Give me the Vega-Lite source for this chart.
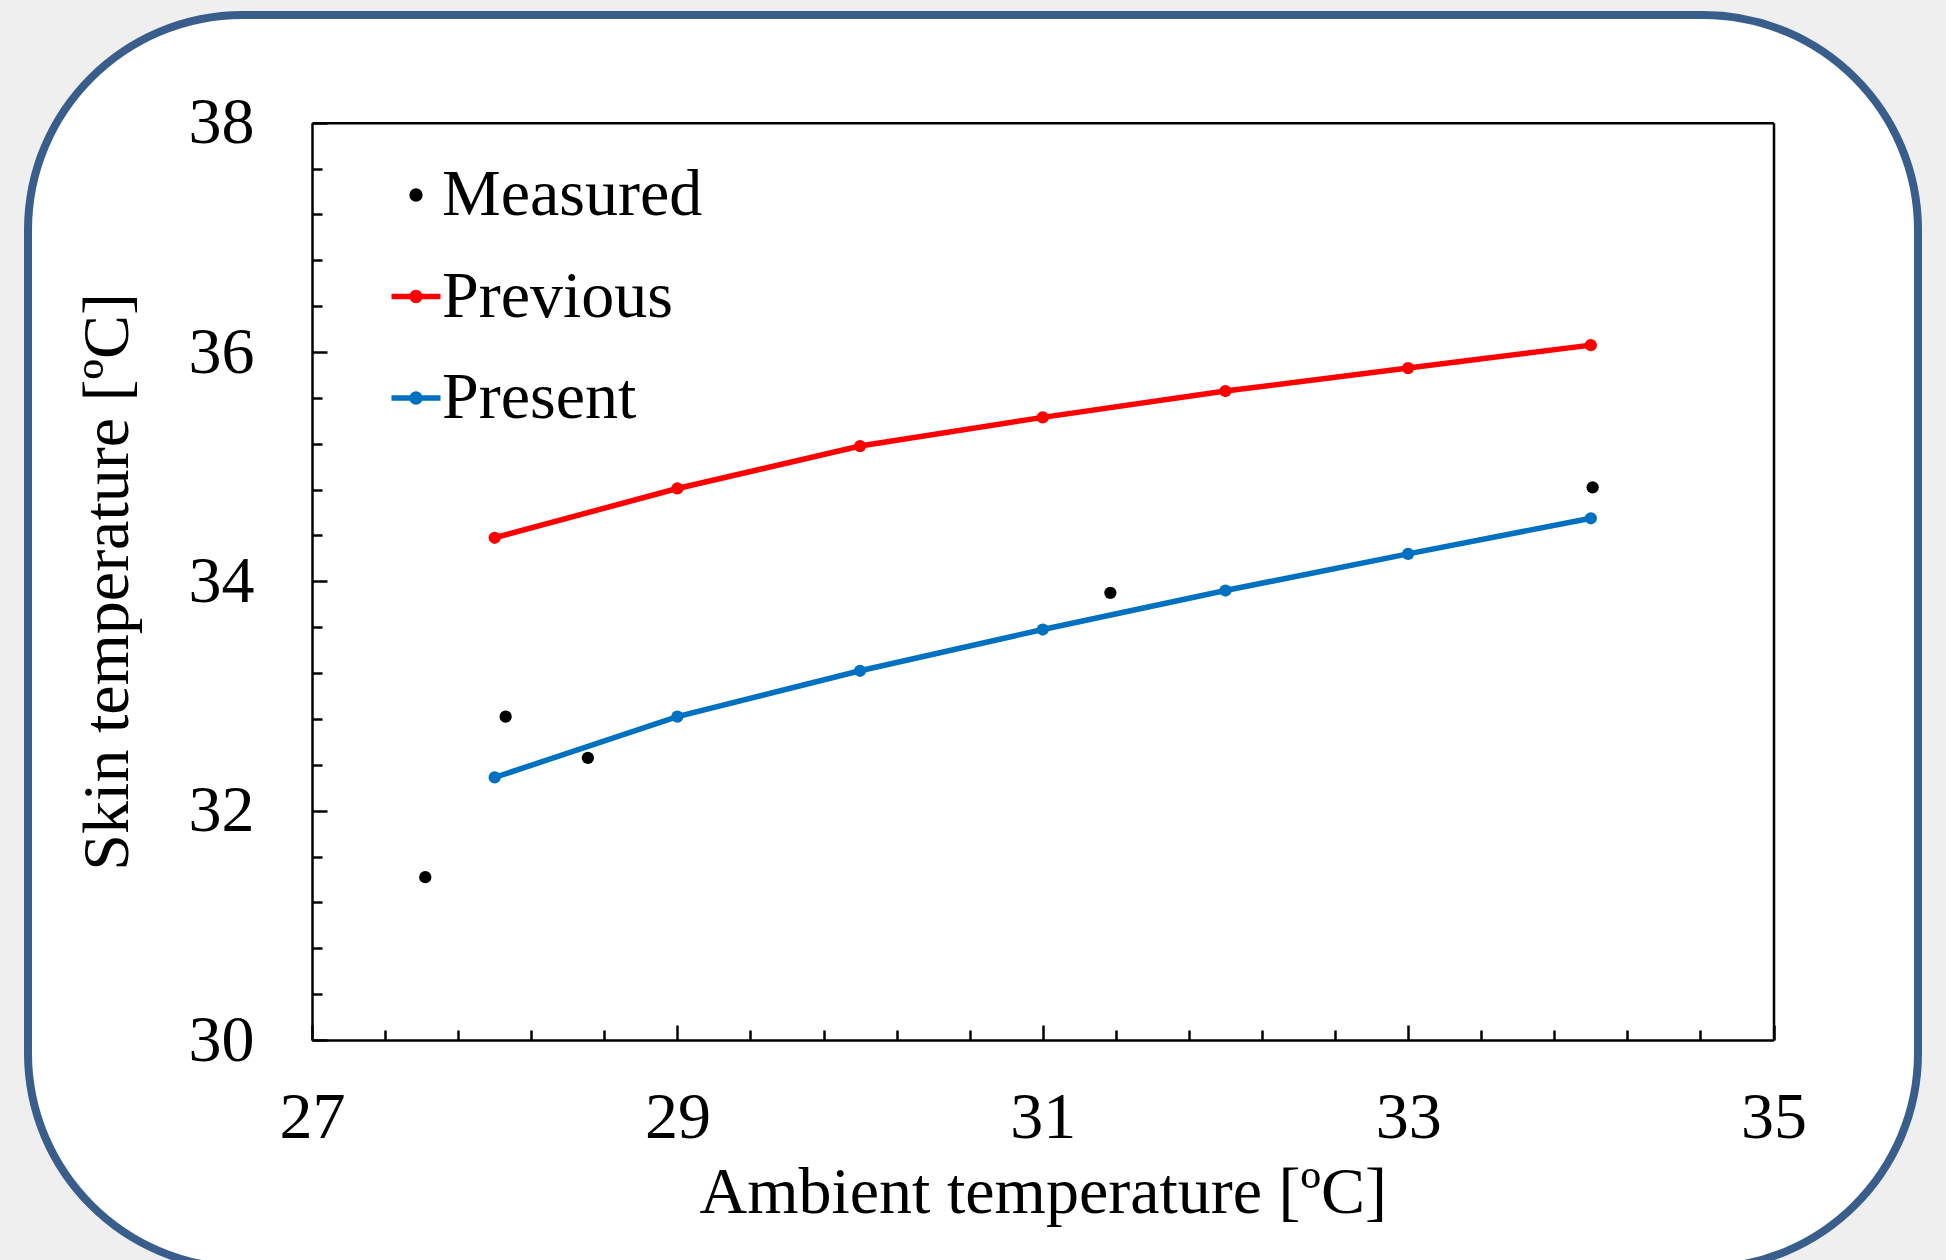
{
  "$schema": "https://vega.github.io/schema/vega-lite/v6.json",
  "autosize": "none",
  "width": 1890,
  "height": 1253,
  "padding": {"left": 28, "top": 15, "right": 28, "bottom": -8},
  "background": "#efefef",
  "config": {
    "font": "Liberation Serif",
    "view": {"fill": "#ffffff", "stroke": "#3A5E8C", "strokeWidth": 8, "cornerRadius": 215},
    "axis": {"grid": false, "domainColor": "#000000", "domainWidth": 2.5, "tickColor": "#000000", "tickWidth": 2.5,
             "labelFont": "Liberation Serif", "labelFontSize": 66, "labelColor": "#000000",
             "titleFont": "Liberation Serif", "titleFontSize": 66, "titleFontWeight": "normal", "titleColor": "#000000",
             "labelFlush": false, "labelOverlap": false}
  },
  "datasets": {
    "temps": [
      {"series": "Previous", "ambient": 28, "skin": 34.38},
      {"series": "Previous", "ambient": 29, "skin": 34.81},
      {"series": "Previous", "ambient": 30, "skin": 35.18},
      {"series": "Previous", "ambient": 31, "skin": 35.43},
      {"series": "Previous", "ambient": 32, "skin": 35.66},
      {"series": "Previous", "ambient": 33, "skin": 35.86},
      {"series": "Previous", "ambient": 34, "skin": 36.06},
      {"series": "Present", "ambient": 28, "skin": 32.29},
      {"series": "Present", "ambient": 29, "skin": 32.82},
      {"series": "Present", "ambient": 30, "skin": 33.22},
      {"series": "Present", "ambient": 31, "skin": 33.58},
      {"series": "Present", "ambient": 32, "skin": 33.92},
      {"series": "Present", "ambient": 33, "skin": 34.24},
      {"series": "Present", "ambient": 34, "skin": 34.55},
      {"series": "Measured", "ambient": 27.62, "skin": 31.42},
      {"series": "Measured", "ambient": 28.06, "skin": 32.82},
      {"series": "Measured", "ambient": 28.51, "skin": 32.46},
      {"series": "Measured", "ambient": 31.37, "skin": 33.90},
      {"series": "Measured", "ambient": 34.01, "skin": 34.82}
    ]
  },
  "data": {"name": "temps"},
  "resolve": {"axis": {"x": "independent", "y": "independent"}},
  "layer": [
    {
      "transform": [{"filter": "datum.series !== 'Measured'"}],
      "mark": {"type": "line", "strokeWidth": 5.5},
      "encoding": {
        "x": {"field": "ambient", "type": "quantitative",
              "scale": {"domain": [27, 35], "range": [284, 1745.5], "nice": false, "zero": false},
              "axis": {"orient": "bottom", "offset": -228,
                       "values": [27,27.4,27.8,28.2,28.6,29,29.4,29.8,30.2,30.6,31,31.4,31.8,32.2,32.6,33,33.4,33.8,34.2,34.6,35],
                       "labelExpr": "(abs(datum.value - round(datum.value)) < 0.01 && round(datum.value) % 2 == 1) ? format(datum.value, 'd') : ''",
                       "tickSize": {"condition": {"test": "abs(datum.value - round(datum.value)) < 0.01 && round(datum.value) % 2 == 1", "value": -15}, "value": -10},
                       "labelPadding": 60, "title": "Ambient temperature [ºC]", "titlePadding": 5}},
        "y": {"field": "skin", "type": "quantitative",
              "scale": {"domain": [30, 38], "range": [1025, 107.7], "nice": false, "zero": false},
              "axis": {"orient": "left", "offset": -284,
                       "values": [30,30.4,30.8,31.2,31.6,32,32.4,32.8,33.2,33.6,34,34.4,34.8,35.2,35.6,36,36.4,36.8,37.2,37.6,38],
                       "labelExpr": "(abs(datum.value - round(datum.value)) < 0.01 && round(datum.value) % 2 == 0) ? format(datum.value, 'd') : ''",
                       "tickSize": {"condition": {"test": "abs(datum.value - round(datum.value)) < 0.01 && round(datum.value) % 2 == 0", "value": -15}, "value": -10},
                       "labelPadding": 73, "title": "Skin temperature [ºC]", "titlePadding": 47}},
        "color": {"field": "series", "type": "nominal",
                  "scale": {"domain": ["Measured", "Previous", "Present"], "range": ["#000000", "#FF0000", "#0070C0"]},
                  "legend": {"orient": "none", "legendX": 355, "legendY": 147, "title": null, "padding": 0,
                             "labelFont": "Liberation Serif", "labelFontSize": 66, "labelColor": "#000000", "labelLimit": 0,
                             "rowPadding": 35.5, "labelOffset": -7, "symbolSize": 2401, "symbolStrokeWidth": 5,
                             "encode": {"symbols": {"update": {
                               "shape": {"signal": "datum.value === 'Measured' ? 'M0.16,0A0.16,0.16,0,1,1,-0.16,0A0.16,0.16,0,1,1,0.16,0Z' : 'M-1,0H1M0.16,0A0.16,0.16,0,1,1,-0.16,0A0.16,0.16,0,1,1,0.16,0Z'"},
                               "fill": {"scale": "color", "field": "value"},
                               "stroke": {"scale": "color", "field": "value"},
                               "strokeWidth": {"value": 5.5},
                               "opacity": {"value": 1},
                               "fillOpacity": {"value": 1},
                               "strokeOpacity": {"value": 1}}}}}}
      }
    },
    {
      "mark": {"type": "circle", "size": 150, "opacity": 1},
      "encoding": {
        "x": {"field": "ambient", "type": "quantitative",
              "axis": {"orient": "top", "offset": -107.7, "ticks": false, "labels": false, "title": null, "domain": true}},
        "y": {"field": "skin", "type": "quantitative",
              "axis": {"orient": "right", "offset": -144.5, "ticks": false, "labels": false, "title": null, "domain": true}},
        "color": {"field": "series", "type": "nominal"}
      }
    }
  ]
}
